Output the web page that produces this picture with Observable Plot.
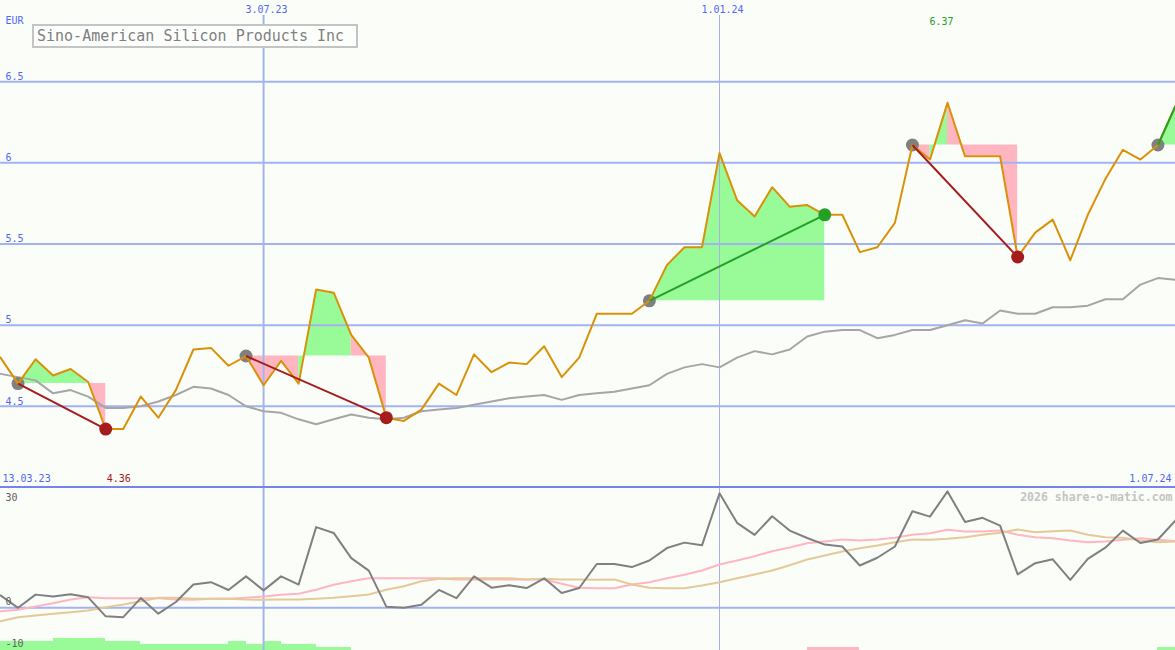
<!DOCTYPE html>
<html><head><meta charset="utf-8">
<script src="https://cdn.jsdelivr.net/npm/d3@7"></script>
<script src="https://cdn.jsdelivr.net/npm/@observablehq/plot@0.6"></script>
<style>
body{margin:0;background:#fbfdf9;}
#wrap{position:relative;width:1175px;height:650px;overflow:hidden;background:#fbfdf9;font-family:"DejaVu Sans Mono",monospace;}
#wrap svg{display:block;}
#title{position:absolute;z-index:2;left:32px;top:24px;width:319px;height:20px;border:2px solid #c4c4c4;background:#fcfefc;color:#808080;font-size:15px;line-height:20px;padding-left:3px;box-sizing:content-box;white-space:nowrap;font-family:"DejaVu Sans Mono",monospace;}
</style></head><body>
<div id="wrap"><div id="title">Sino-American Silicon Products Inc</div></div>
<script>
// ---- data ----
const startWeek = "2023-03-13";
const xDomain = ["2023-03-20", "2024-07-01"];
const close = [4.85,4.80,4.64,4.79,4.69,4.73,4.65,4.36,4.36,4.56,
  4.43,4.60,4.85,4.86,4.75,4.81,4.63,4.78,4.64,5.22,
  5.20,4.94,4.80,4.43,4.41,4.48,4.64,4.57,4.82,4.71,
  4.77,4.76,4.87,4.68,4.80,5.07,5.07,5.07,5.15,5.37,
  5.48,5.48,6.06,5.77,5.67,5.85,5.73,5.74,5.68,5.68,
  5.45,5.48,5.63,6.11,6.02,6.37,6.04,6.04,6.04,5.42,
  5.57,5.65,5.40,5.68,5.90,6.08,6.02,6.11,6.35];
const avg = [4.70,4.70,4.68,4.66,4.58,4.60,4.56,4.49,4.49,4.50,
  4.53,4.57,4.62,4.61,4.57,4.50,4.47,4.46,4.42,4.39,
  4.42,4.45,4.43,4.42,4.43,4.47,4.48,4.49,4.51,4.53,
  4.55,4.56,4.57,4.54,4.57,4.58,4.59,4.61,4.63,4.70,
  4.74,4.76,4.74,4.80,4.84,4.82,4.85,4.93,4.96,4.97,
  4.97,4.92,4.94,4.97,4.97,5.00,5.03,5.01,5.09,5.07,
  5.07,5.11,5.11,5.12,5.16,5.16,5.25,5.29,5.28];
const osc = [3,3.2,0.0,3.4,2.9,3.5,2.7,-2.2,-2.4,2.5,
  -1.5,1.5,6.0,6.6,4.6,8.1,4.5,8.1,6.0,20.8,
  19.3,12.8,9.6,0.3,0.0,0.8,4.6,2.5,8.1,5.2,
  5.8,5.1,7.6,3.8,5.1,11.3,11.3,10.5,12.2,15.4,
  16.8,16.1,29.5,21.9,18.8,23.6,19.9,18.0,16.3,15.8,
  10.9,12.9,15.8,24.9,23.5,30.0,22.1,23.2,21.2,8.6,
  11.5,12.5,7.2,12.6,15.5,19.9,16.7,17.6,22.5];
const sigPink = [-1.0,-0.87,-0.51,0.34,1.19,2.14,2.73,2.48,2.48,2.48,
  2.48,2.14,2.06,2.32,2.32,2.58,2.91,3.35,3.61,4.64,
  5.93,6.86,7.63,7.63,7.63,7.63,7.63,7.29,7.29,7.29,
  7.29,7.29,7.29,6.19,5.16,5.05,5.05,6.01,6.60,7.63,
  8.51,9.61,11.16,12.19,13.30,14.59,15.54,16.65,17.09,17.60,
  17.34,17.60,18.04,18.81,19.22,20.10,19.66,19.66,19.92,18.81,
  18.19,17.94,17.34,16.91,17.09,17.52,17.94,17.52,17.2];
const sigTan = [-4.5,-3.45,-2.42,-1.98,-1.54,-1.13,-0.69,0.16,0.85,1.70,
  2.58,2.58,2.32,2.32,2.32,2.14,2.06,2.14,2.14,2.32,
  2.58,2.99,3.43,4.64,5.57,6.86,7.47,7.63,7.63,7.63,
  7.63,7.29,7.47,7.29,7.29,7.22,7.29,6.01,5.16,5.05,
  5.05,5.75,6.60,7.63,8.58,9.61,10.98,12.45,13.48,14.51,
  15.36,16.05,16.91,17.60,17.52,17.78,18.19,18.81,19.33,20.18,
  19.48,19.74,19.92,18.81,18.19,18.04,17.34,16.91,17.09];
const tradeEntry = [2,15,38,53,67];
const tradeExit = [7,23,48,59,68];
const tradeResult = ["loss","loss","win","loss","open"];
const barWeek = [0,1,2,3,4,5,6,7,8,9,10,11,12,13,14,15,16,17,18,19,20,47,48,49,67];
const barSize = [3,3,3,3,4,4,4,3,3,2,2,2,2,2,3,2,3,2,2,1,1,1,1,1,1];
const barKind = ["buy","buy","buy","buy","buy","buy","buy","buy","buy","buy","buy","buy","buy","buy","buy","buy","buy","buy","buy","buy","buy","sell","sell","sell","buy"];
const priceTicks = [6.5,6,5.5,5,4.5];
const priceTickText = ["6.5","6","5.5","5","4.5"];
const gridDates = ["2023-07-03","2024-01-01"];
const gridDateText = ["3.07.23","1.01.24"];
const firstLabel = "13.03.23", lastLabel = "1.07.24";
const minLabel = "4.36", maxLabel = "6.37";
const unitLabel = "EUR";
const oscTicks = [30,0,-10];
const oscTickText = ["30","0","-10"];
const footer = "2026 share-o-matic.com";

// ---- styles ----
const BLUE_TXT = "#5068f0", GRID = "#a2b2f2", BORDER = "#7484ea";
const ORANGE = "#d99208", GRAY_MA = "#a6a6a6";
const GREEN_FILL = "#98fb98", PINK_FILL = "#ffb6c1";
const RED = "#a41c1c", GREEN = "#24a024", DOT_GRAY = "#808080";
const FONT = "DejaVu Sans Mono";

const utc = s => new Date(s + "T00:00:00Z");
const d0 = utc(startWeek);
const dates = close.map((_, i) => new Date(d0.getTime() + i * 7 * 86400000));
const xDom = xDomain.map(utc);
const rows = dates.map((date, i) => ({date, close: close[i], avg: avg[i], osc: osc[i], pink: sigPink[i], tan: sigTan[i]}));

// fill between price and entry level; consecutive segments of the same colour are merged
const fillRows = [];
let segId = 0;
tradeEntry.forEach((e, t) => {
  const level = close[e];
  let prev = null;
  for (let i = e; i < tradeExit[t]; i++) {
    const fill = close[i + 1] > level ? GREEN_FILL : PINK_FILL;
    if (fill !== prev) {
      segId++;
      fillRows.push({date: dates[i], y1: level, y2: close[i], seg: segId, fill});
    }
    fillRows.push({date: dates[i + 1], y1: level, y2: close[i + 1], seg: segId, fill});
    prev = fill;
  }
});
const tradeRows = tradeEntry.map((e, t) => ({
  x1: dates[e], y1: close[e], x2: dates[tradeExit[t]], y2: close[tradeExit[t]],
  stroke: tradeResult[t] === "loss" ? RED : GREEN, result: tradeResult[t]
}));
const exitRows = tradeRows.filter(d => d.result !== "open");
const minIdx = close.indexOf(d3.min(close));
const maxIdx = close.indexOf(d3.max(close));

const mainH = 488;
const main = Plot.plot({
  width: 1175, height: mainH, marginTop: 0, marginRight: 0, marginLeft: 0, marginBottom: 1,
  x: {type: "utc", domain: xDom, axis: null},
  y: {domain: [4, 7], axis: null},
  color: {type: "identity"},
  style: {background: "transparent", fontFamily: FONT, fontSize: "10px", overflow: "hidden"},
  marks: [
    Plot.areaY(fillRows, {x: "date", y1: "y1", y2: "y2", z: "seg", fill: "fill", clip: true}),
    Plot.ruleY(priceTicks, {stroke: GRID, strokeWidth: 2}),
    Plot.ruleX([utc(gridDates[0])], {stroke: "#a2b4f2", strokeWidth: 2, insetTop: 15}),
    Plot.ruleX([utc(gridDates[1])], {stroke: "#a8b0e4", strokeWidth: 1, insetTop: 15}),
    Plot.ruleY([4], {stroke: BORDER, strokeWidth: 3}),
    Plot.lineY(rows, {x: "date", y: "avg", stroke: GRAY_MA, strokeWidth: 2, clip: true}),
    Plot.dot(tradeRows, {x: "x1", y: "y1", r: 6.5, fill: DOT_GRAY}),
    Plot.lineY(rows, {x: "date", y: "close", stroke: ORANGE, strokeWidth: 2, clip: true}),
    Plot.link(tradeRows, {x1: "x1", y1: "y1", x2: "x2", y2: "y2", stroke: "stroke", strokeWidth: 2}),
    Plot.dot(exitRows, {x: "x2", y: "y2", r: 6.5, fill: "stroke"}),
    Plot.text(priceTicks, {y: d => d, text: (d, i) => priceTickText[i], frameAnchor: "left", dx: 5, dy: -5, textAnchor: "start", lineAnchor: "middle", fill: BLUE_TXT, fontFamily: FONT, fontSize: 10}),
    Plot.text([unitLabel], {text: d => d, frameAnchor: "top-left", dx: 5, dy: 20, textAnchor: "start", lineAnchor: "middle", fill: BLUE_TXT, fontFamily: FONT, fontSize: 10}),
    Plot.text(gridDates, {x: d => utc(d), text: (d, i) => gridDateText[i], frameAnchor: "top", dy: 9, dx: 3, textAnchor: "middle", lineAnchor: "middle", fill: BLUE_TXT, fontFamily: FONT, fontSize: 10}),
    Plot.text([firstLabel], {text: d => d, frameAnchor: "bottom-left", dx: 2, dy: -9, textAnchor: "start", lineAnchor: "middle", fill: BLUE_TXT, fontFamily: FONT, fontSize: 10}),
    Plot.text([lastLabel], {text: d => d, frameAnchor: "bottom-right", dx: -4, dy: -9, textAnchor: "end", lineAnchor: "middle", fill: BLUE_TXT, fontFamily: FONT, fontSize: 10}),
    Plot.text([minLabel], {x: () => dates[minIdx], text: d => d, frameAnchor: "bottom", dx: 13, dy: -9, textAnchor: "middle", lineAnchor: "middle", fill: RED, fontFamily: FONT, fontSize: 10}),
    Plot.text([maxLabel], {x: () => dates[maxIdx], text: d => d, frameAnchor: "top", dx: -6, dy: 21, textAnchor: "middle", lineAnchor: "middle", fill: GREEN, fontFamily: FONT, fontSize: 10})
  ]
});

const lowDom = [-11, 30.75];
const lowH = 162;
const pxPerUnit = lowH / (lowDom[1] - lowDom[0]);
const barRows = barWeek.map((w, i) => ({
  x1: dates[w], x2: dates[w + 1], y1: lowDom[0], y2: lowDom[0] + barSize[i] * 3 / pxPerUnit,
  fill: barKind[i] === "buy" ? GREEN_FILL : PINK_FILL
}));

const lower = Plot.plot({
  width: 1175, height: lowH, margin: 0,
  x: {type: "utc", domain: xDom, axis: null},
  y: {domain: lowDom, axis: null},
  color: {type: "identity"},
  style: {background: "transparent", fontFamily: FONT, fontSize: "10px", overflow: "hidden"},
  marks: [
    Plot.rect(barRows, {x1: "x1", x2: "x2", y1: "y1", y2: "y2", fill: "fill", clip: true, shapeRendering: "crispEdges"}),
    Plot.ruleX([utc(gridDates[0])], {stroke: "#a2b4f2", strokeWidth: 2}),
    Plot.ruleX([utc(gridDates[1])], {stroke: "#a8b0e4", strokeWidth: 1}),
    Plot.ruleY([0], {stroke: GRID, strokeWidth: 2}),
    Plot.lineY(rows, {x: "date", y: "pink", stroke: PINK_FILL, strokeWidth: 2, clip: true}),
    Plot.lineY(rows, {x: "date", y: "tan", stroke: "#e3ca98", strokeWidth: 2, clip: true}),
    Plot.lineY(rows, {x: "date", y: "osc", stroke: "#808080", strokeWidth: 2, clip: true}),
    Plot.text([oscTicks[0]], {y: d => d, text: () => oscTickText[0], frameAnchor: "left", dx: 5, dy: 6, textAnchor: "start", lineAnchor: "middle", fill: "#606060", fontFamily: FONT, fontSize: 10}),
    Plot.text([oscTicks[1]], {y: d => d, text: () => oscTickText[1], frameAnchor: "left", dx: 5, dy: -6, textAnchor: "start", lineAnchor: "middle", fill: "#606060", fontFamily: FONT, fontSize: 10}),
    Plot.text([oscTicks[2]], {y: d => d, text: () => oscTickText[2], frameAnchor: "left", dx: 5, dy: -3, textAnchor: "start", lineAnchor: "middle", fill: "#606060", fontFamily: FONT, fontSize: 10}),
    Plot.text([footer], {text: d => d, frameAnchor: "top-right", dx: -3, dy: 9, textAnchor: "end", lineAnchor: "middle", fill: "#c4c4c4", fontWeight: "bold", fontFamily: FONT, fontSize: 11.5})
  ]
});

const wrap = document.getElementById("wrap");
const title = document.getElementById("title");
wrap.insertBefore(main, title);
wrap.insertBefore(lower, title);
</script>
</body></html>
